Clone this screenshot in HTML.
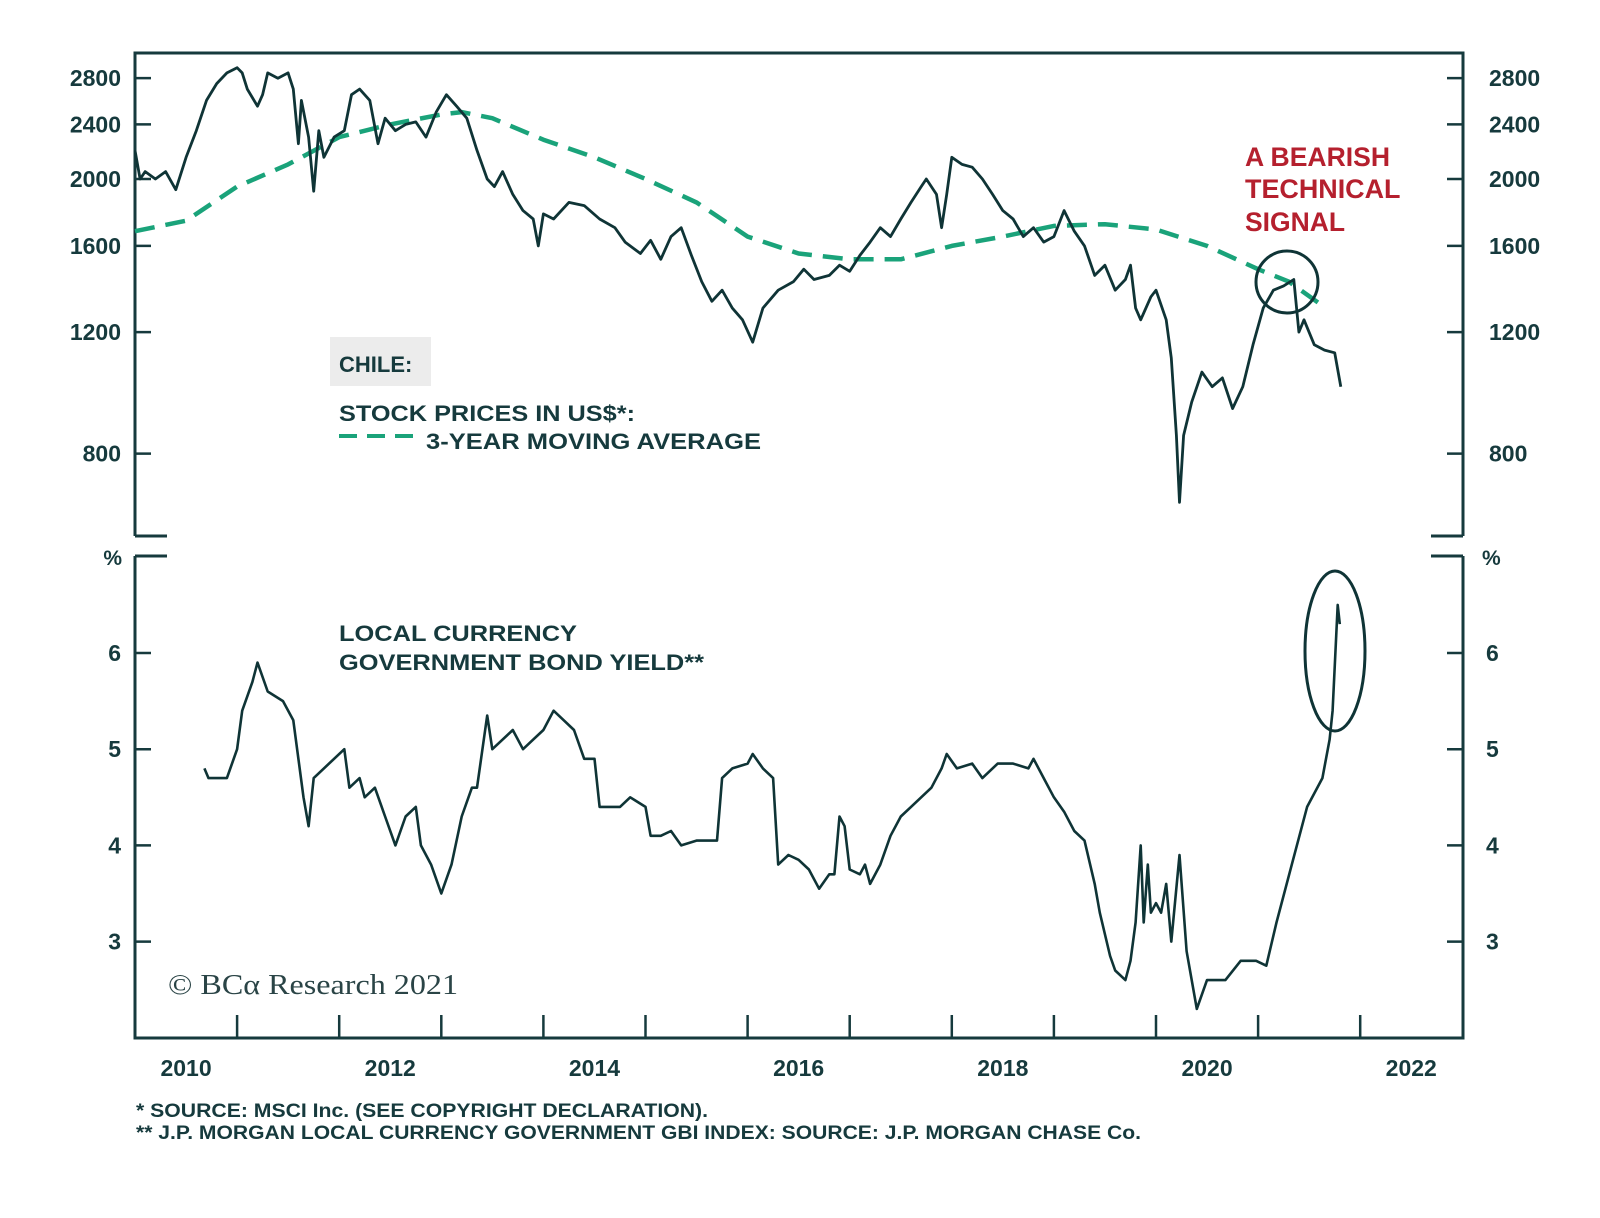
<!DOCTYPE html>
<html><head><meta charset="utf-8"><style>
html,body{margin:0;padding:0;background:#fff;}
svg{display:block;font-family:"Liberation Sans",Arial,sans-serif;}
</style></head><body>
<svg id="chart" width="1600" height="1218" viewBox="0 0 1600 1218" xmlns="http://www.w3.org/2000/svg">
<g id="axes"></g>
<g id="series"></g>
<g id="labels" font-weight="bold" fill="#163a3d">
  <rect x="330" y="337" width="101" height="49" fill="#ececec"/>
  <text x="339" y="372" font-size="22">CHILE:</text>
  <text x="339" y="421" font-size="22" textLength="296" lengthAdjust="spacingAndGlyphs">STOCK PRICES IN US$*:</text>
  <line x1="339" y1="436" x2="413" y2="436" stroke="#1aa37a" stroke-width="4" stroke-dasharray="18,10"/>
  <text x="426" y="449" font-size="22" textLength="335" lengthAdjust="spacingAndGlyphs">3-YEAR MOVING AVERAGE</text>
  <text fill="#b5202e" font-size="27" font-weight="bold">
    <tspan x="1245" y="166" textLength="145" lengthAdjust="spacingAndGlyphs">A BEARISH</tspan>
    <tspan x="1245" y="198" textLength="155" lengthAdjust="spacingAndGlyphs">TECHNICAL</tspan>
    <tspan x="1245" y="231" textLength="100" lengthAdjust="spacingAndGlyphs">SIGNAL</tspan>
  </text>
  <text x="339" y="641" font-size="22" textLength="238" lengthAdjust="spacingAndGlyphs">LOCAL CURRENCY</text>
  <text x="339" y="670" font-size="22" textLength="365" lengthAdjust="spacingAndGlyphs">GOVERNMENT BOND YIELD**</text>
  <text x="168" y="994" font-size="29" font-weight="normal" fill="#2a4446" font-family="'Liberation Serif',serif" textLength="290" lengthAdjust="spacingAndGlyphs">© BCα Research 2021</text>
  <text x="136" y="1117" font-size="19" textLength="572" lengthAdjust="spacingAndGlyphs">*  SOURCE: MSCI Inc. (SEE COPYRIGHT DECLARATION).</text>
  <text x="136" y="1139" font-size="19" textLength="1005" lengthAdjust="spacingAndGlyphs">** J.P. MORGAN LOCAL CURRENCY GOVERNMENT GBI INDEX: SOURCE: J.P. MORGAN CHASE Co.</text>
</g>
</svg>
<script>
// ---- data ----
const stockDates = [2010.0,2010.05,2010.1,2010.2,2010.3,2010.4,2010.5,2010.6,2010.7,2010.8,2010.9,2011.0,2011.05,2011.1,2011.2,2011.25,2011.3,2011.4,2011.5,2011.55,2011.6,2011.63,2011.7,2011.75,2011.8,2011.85,2011.95,2012.05,2012.12,2012.2,2012.3,2012.38,2012.45,2012.55,2012.65,2012.75,2012.85,2012.95,2013.05,2013.15,2013.25,2013.35,2013.45,2013.52,2013.6,2013.7,2013.8,2013.9,2013.95,2014.0,2014.1,2014.25,2014.4,2014.55,2014.7,2014.8,2014.95,2015.05,2015.15,2015.25,2015.35,2015.45,2015.55,2015.65,2015.75,2015.85,2015.95,2016.05,2016.15,2016.3,2016.45,2016.55,2016.65,2016.8,2016.9,2017.0,2017.1,2017.2,2017.3,2017.4,2017.5,2017.6,2017.7,2017.75,2017.85,2017.9,2017.95,2018.0,2018.1,2018.2,2018.3,2018.4,2018.5,2018.6,2018.7,2018.8,2018.9,2019.0,2019.1,2019.2,2019.3,2019.4,2019.5,2019.6,2019.7,2019.75,2019.8,2019.85,2019.95,2020.0,2020.1,2020.15,2020.2,2020.23,2020.27,2020.35,2020.45,2020.55,2020.65,2020.75,2020.85,2020.95,2021.05,2021.15,2021.25,2021.35,2021.4,2021.45,2021.55,2021.65,2021.75,2021.81];
const stockValues = [2200,2000,2050,2000,2050,1930,2150,2350,2600,2750,2850,2900,2850,2700,2550,2650,2850,2800,2850,2700,2250,2600,2300,1920,2350,2150,2300,2350,2650,2700,2600,2250,2450,2350,2400,2420,2300,2500,2650,2550,2450,2200,2000,1950,2050,1900,1800,1750,1600,1780,1750,1850,1830,1750,1700,1620,1560,1630,1530,1650,1700,1550,1420,1330,1380,1300,1250,1160,1300,1380,1420,1480,1430,1450,1500,1470,1550,1620,1700,1650,1750,1850,1950,2000,1900,1700,1900,2150,2100,2080,2000,1900,1800,1750,1650,1700,1620,1650,1800,1680,1600,1450,1500,1380,1430,1500,1300,1250,1350,1380,1250,1100,850,680,850,950,1050,1000,1030,930,1000,1150,1300,1380,1400,1430,1200,1250,1150,1130,1120,1000];
const maDates = [2010.0,2010.5,2011.0,2011.5,2012.0,2012.5,2013.0,2013.2,2013.5,2014.0,2014.5,2015.0,2015.5,2016.0,2016.5,2017.0,2017.5,2018.0,2018.5,2019.0,2019.5,2020.0,2020.5,2021.0,2021.3,2021.6];
const maValues = [1680,1740,1950,2100,2300,2400,2480,2500,2450,2280,2150,2000,1850,1650,1560,1530,1530,1600,1650,1710,1720,1690,1600,1480,1420,1320];
const bondDates = [2010.68,2010.72,2010.9,2011.0,2011.05,2011.15,2011.2,2011.3,2011.45,2011.55,2011.6,2011.65,2011.7,2011.75,2011.85,2011.95,2012.05,2012.1,2012.2,2012.25,2012.35,2012.45,2012.55,2012.65,2012.75,2012.8,2012.9,2013.0,2013.1,2013.2,2013.3,2013.35,2013.45,2013.5,2013.6,2013.7,2013.8,2013.9,2014.0,2014.1,2014.2,2014.3,2014.4,2014.5,2014.55,2014.65,2014.75,2014.85,2015.0,2015.05,2015.15,2015.25,2015.35,2015.5,2015.7,2015.75,2015.85,2016.0,2016.05,2016.15,2016.25,2016.3,2016.4,2016.5,2016.6,2016.7,2016.8,2016.85,2016.9,2016.95,2017.0,2017.1,2017.15,2017.2,2017.3,2017.4,2017.5,2017.6,2017.7,2017.8,2017.9,2017.95,2018.05,2018.2,2018.3,2018.45,2018.6,2018.75,2018.8,2018.9,2019.0,2019.1,2019.2,2019.3,2019.4,2019.45,2019.55,2019.6,2019.7,2019.75,2019.8,2019.85,2019.88,2019.92,2019.95,2020.0,2020.05,2020.1,2020.15,2020.23,2020.3,2020.4,2020.5,2020.68,2020.83,2020.98,2021.08,2021.18,2021.33,2021.48,2021.63,2021.7,2021.73,2021.78,2021.8];
const bondValues = [4.8,4.7,4.7,5.0,5.4,5.7,5.9,5.6,5.5,5.3,4.9,4.5,4.2,4.7,4.8,4.9,5.0,4.6,4.7,4.5,4.6,4.3,4.0,4.3,4.4,4.0,3.8,3.5,3.8,4.3,4.6,4.6,5.35,5.0,5.1,5.2,5.0,5.1,5.2,5.4,5.3,5.2,4.9,4.9,4.4,4.4,4.4,4.5,4.4,4.1,4.1,4.15,4.0,4.05,4.05,4.7,4.8,4.85,4.95,4.8,4.7,3.8,3.9,3.85,3.75,3.55,3.7,3.7,4.3,4.2,3.75,3.7,3.8,3.6,3.8,4.1,4.3,4.4,4.5,4.6,4.8,4.95,4.8,4.85,4.7,4.85,4.85,4.8,4.9,4.7,4.5,4.35,4.15,4.05,3.6,3.3,2.85,2.7,2.6,2.8,3.2,4.0,3.2,3.8,3.3,3.4,3.3,3.6,3.0,3.9,2.9,2.3,2.6,2.6,2.8,2.8,2.75,3.2,3.8,4.4,4.7,5.1,5.4,6.5,6.3];
const stockTicks = [800,1200,1600,2000,2400,2800];
const bondTicks = [3,4,5,6];
const yearLabels = ["2010","2012","2014","2016","2018","2020","2022"];
const yearLabelPos = [2010.5,2012.5,2014.5,2016.5,2018.5,2020.5,2022.5];
const yearTicks = [2011,2012,2013,2014,2015,2016,2017,2018,2019,2020,2021,2022];

// ---- scales ----
const L=135, R=1463, TOP=53, UB=536, LT=556, BOT=1038;
const x = d => L + (d-2010)*102.1;
const yS = v => 179 - 690*Math.log10(v/2000);
const yB = v => 653 + (6-v)*96.2;
const NS="http://www.w3.org/2000/svg";
const C="#163a3d";
function mk(tag, attrs, parent){const e=document.createElementNS(NS,tag);for(const k in attrs)e.setAttribute(k,attrs[k]);parent.appendChild(e);return e;}
const ax=document.getElementById('axes'), se=document.getElementById('series');

let e;
e=mk('path',{d:`M${L},${UB} L${L},${TOP} L${R},${TOP} L${R},${UB}`,fill:'none',stroke:C,'stroke-width':3},ax);


e=mk('path',{d:`M${L},${UB} h32 M${R},${UB} h-32 M${L},${LT} h32 M${R},${LT} h-32`,fill:'none',stroke:C,'stroke-width':3},ax);


e=mk('path',{d:`M${L},${LT} L${L},${BOT} L${R},${BOT} L${R},${LT}`,fill:'none',stroke:C,'stroke-width':3},ax);



stockTicks.forEach(v=>{
  const y=yS(v);
  e=mk('path',{d:`M${L},${y} h16 M${R},${y} h-16`,stroke:C,'stroke-width':2.5},ax);
  
  
  e=mk('text',{x:121,y:y+8,'text-anchor':'end','font-size':23,'font-weight':'bold',fill:C},ax);e.textContent=v;
  
  
  e=mk('text',{x:1489,y:y+8,'font-size':23,'font-weight':'bold',fill:C},ax);e.textContent=v;
  
  
});
bondTicks.forEach(v=>{
  const y=yB(v);
  e=mk('path',{d:`M${L},${y} h16 M${R},${y} h-16`,stroke:C,'stroke-width':2.5},ax);
  
  
  e=mk('text',{x:121,y:y+8,'text-anchor':'end','font-size':23,'font-weight':'bold',fill:C},ax);e.textContent=v;
  
  
  e=mk('text',{x:1486,y:y+8,'font-size':23,'font-weight':'bold',fill:C},ax);e.textContent=v;
  
  
});
[[122,'end'],[1482,'start']].forEach(p=>{
  e=mk('text',{x:p[0],y:565,'text-anchor':p[1],'font-size':21,'font-weight':'bold',fill:C},ax);e.textContent='%';
  
  
});
yearTicks.forEach(d=>{
  e=mk('line',{x1:x(d),x2:x(d),y1:BOT,y2:BOT-23,stroke:C,'stroke-width':2.5},ax);
  
  
});
yearLabels.forEach((t,i)=>{
  e=mk('text',{x:x(yearLabelPos[i]),y:1076,'text-anchor':'middle','font-size':23,'font-weight':'bold',fill:C},ax);e.textContent=t;
  
  
});

function pathOf(ds,vs,fy){return ds.map((d,i)=>(i?'L':'M')+x(d).toFixed(1)+','+fy(vs[i]).toFixed(1)).join(' ');}
e=mk('path',{d:pathOf(maDates,maValues,yS),fill:'none',stroke:'#1aa37a','stroke-width':4.5,'stroke-dasharray':'20,11','stroke-linejoin':'round'},se);


e=mk('path',{d:pathOf(stockDates,stockValues,yS),fill:'none',stroke:'#0f3436','stroke-width':2.8,'stroke-linejoin':'round'},se);


e=mk('path',{d:pathOf(bondDates,bondValues,yB),fill:'none',stroke:'#0f3436','stroke-width':2.6,'stroke-linejoin':'round'},se);


e=mk('circle',{cx:1287,cy:282,r:31,fill:'none',stroke:'#0f3436','stroke-width':3},se);


e=mk('ellipse',{cx:1335,cy:651,rx:30,ry:80,fill:'none',stroke:'#0f3436','stroke-width':3},se);


</script>
</body></html>
